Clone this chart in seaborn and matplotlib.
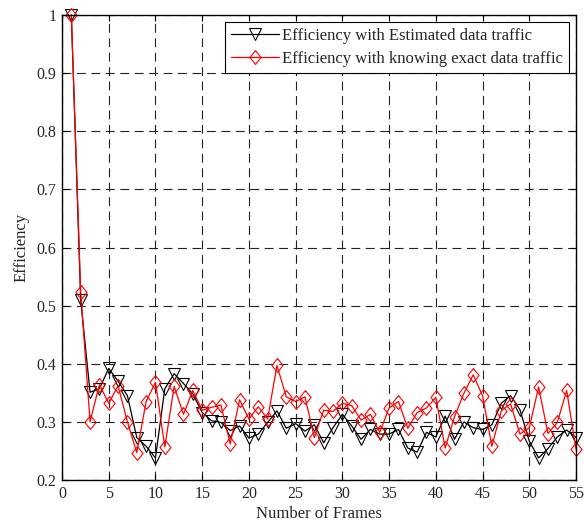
import matplotlib
matplotlib.use("Agg")
import matplotlib.pyplot as plt
import seaborn as sns
import pandas as pd

frames = list(range(1, 56))
estimated = [1.0, 0.51, 0.351, 0.357, 0.392, 0.37, 0.345, 0.273, 0.258, 0.238,
             0.357, 0.383, 0.366, 0.348, 0.316, 0.302, 0.299, 0.285, 0.293, 0.272,
             0.279, 0.299, 0.319, 0.289, 0.297, 0.284, 0.295, 0.264, 0.29, 0.313,
             0.293, 0.27, 0.287, 0.279, 0.279, 0.287, 0.255, 0.248, 0.282, 0.274,
             0.31, 0.27, 0.30, 0.29, 0.287, 0.295, 0.332, 0.345, 0.321, 0.267,
             0.238, 0.254, 0.274, 0.286, 0.273]
exact = [1.0, 0.524, 0.30, 0.364, 0.332, 0.362, 0.30, 0.247, 0.335, 0.368,
         0.257, 0.361, 0.313, 0.354, 0.32, 0.325, 0.329, 0.262, 0.338, 0.305,
         0.326, 0.305, 0.397, 0.343, 0.335, 0.343, 0.273, 0.32, 0.318, 0.332,
         0.328, 0.303, 0.313, 0.282, 0.324, 0.335, 0.289, 0.316, 0.324, 0.342,
         0.255, 0.309, 0.349, 0.381, 0.345, 0.258, 0.319, 0.331, 0.279, 0.29,
         0.36, 0.28, 0.299, 0.354, 0.253]
label_est = "Efficiency with Estimated data traffic"
label_exact = "Efficiency with knowing exact data traffic"

sns.set_theme(style="white")
plt.rcParams['font.family'] = ['Liberation Serif', 'DejaVu Serif']

fig = plt.figure(figsize=(5.84, 5.24), dpi=100)
ax = fig.add_axes([62/584, 1 - 480/524, (576-62)/584, (480-15)/524])

df_est = pd.DataFrame({"x": frames, "y": estimated})
df_exact = pd.DataFrame({"x": frames, "y": exact})

diamond = [(0, 1), (0.8, 0), (0, -1), (-0.8, 0), (0, 1)]

sns.lineplot(data=df_est, x="x", y="y", ax=ax, color="black", linewidth=0.9,
             marker="v", markersize=9, markerfacecolor="none",
             markeredgecolor="black", markeredgewidth=0.8, label=label_est,
             clip_on=False)
sns.lineplot(data=df_exact, x="x", y="y", ax=ax, color="red", linewidth=0.9,
             marker=diamond, markersize=10, markerfacecolor="none",
             markeredgecolor="red", markeredgewidth=0.8, label=label_exact,
             clip_on=False)

ax.set_xlim(0, 55)
ax.set_ylim(0.2, 1.0)
ax.set_xticks(range(0, 56, 5))
ax.set_yticks([0.2, 0.3, 0.4, 0.5, 0.6, 0.7, 0.8, 0.9, 1.0])
ax.set_yticklabels(["0.2", "0.3", "0.4", "0.5", "0.6", "0.7", "0.8", "0.9", "1"])
ax.set_xlabel("Number of Frames", fontsize=12, labelpad=3)
ax.set_ylabel("Efficiency", fontsize=12, labelpad=5)
ax.tick_params(axis="both", direction="in", labelsize=11.5, length=4, width=0.8,
               top=True, right=True, bottom=True, left=True, color="black", pad=4)
ax.grid(True, linestyle=(0, (8, 5)), color="#222222", linewidth=0.8)
for sp in ax.spines.values():
    sp.set_color("black")
    sp.set_linewidth(1.0)
    sp.set_zorder(5)

leg = ax.legend(loc="upper right", fontsize=12, frameon=True, fancybox=False,
                edgecolor="black", framealpha=1, borderaxespad=0.42,
                handlelength=2.9, handletextpad=0.2, borderpad=0.35,
                labelspacing=0.45)
leg.get_frame().set_linewidth(0.8)

fig.savefig("out.png", dpi=100)
